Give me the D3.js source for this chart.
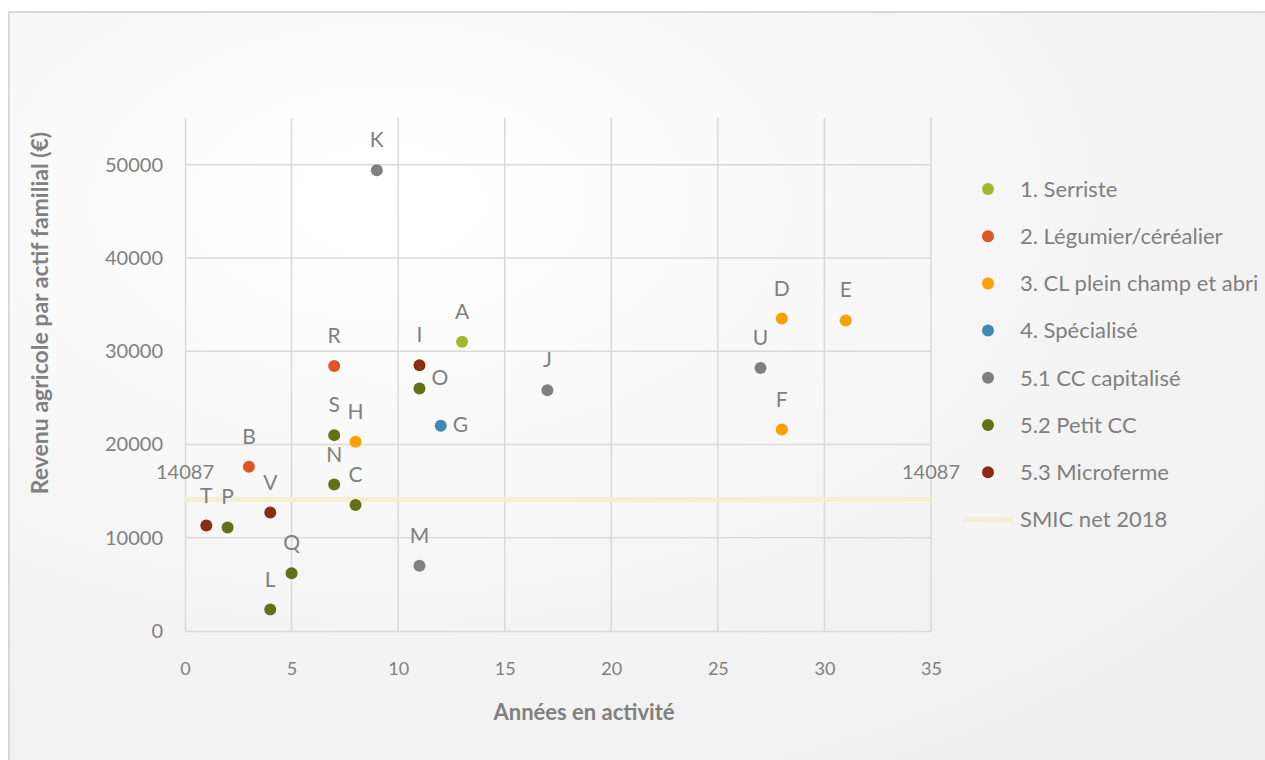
<!DOCTYPE html>
<html>
<head>
<meta charset="utf-8">
<script src="https://cdn.jsdelivr.net/npm/d3@7"></script>
<style>
  html, body { margin: 0; padding: 0; background: #ffffff; overflow: hidden; }
  svg { display: block; }
  text { font-family: Lato, "Open Sans", sans-serif; }
</style>
</head>
<body>
<svg id="chart" width="1265" height="760"></svg>
<script>
// Farm identifiers, years of activity and farm income per family worker (€)
const farmIds   = ["A", "B", "C", "D", "E", "F", "G", "H", "I", "J", "K",
                   "L", "M", "N", "O", "P", "Q", "R", "S", "T", "U", "V"];
const farmYears = [13, 3, 8, 28, 31, 28, 12, 8, 11, 17, 9,
                   4, 11, 7, 11, 2, 5, 7, 7, 1, 27, 4];
const farmIncome = [31000, 17600, 13500, 33500, 33300, 21600, 22000, 20300, 28500, 25800, 49400,
                    2300, 7000, 15700, 26000, 11100, 6200, 28400, 21000, 11300, 28200, 12700];
const farmGroup = ["1. Serriste", "2. Légumier/céréalier", "5.2 Petit CC",
                   "3. CL plein champ et abri", "3. CL plein champ et abri", "3. CL plein champ et abri",
                   "4. Spécialisé", "3. CL plein champ et abri", "5.3 Microferme",
                   "5.1 CC capitalisé", "5.1 CC capitalisé", "5.2 Petit CC", "5.1 CC capitalisé",
                   "5.2 Petit CC", "5.2 Petit CC", "5.2 Petit CC", "5.2 Petit CC",
                   "2. Légumier/céréalier", "5.2 Petit CC", "5.3 Microferme",
                   "5.1 CC capitalisé", "5.3 Microferme"];
// Farms whose label sits to the right of the marker instead of above
const labelRight = ["G", "O"];

const groupNames  = ["1. Serriste", "2. Légumier/céréalier", "3. CL plein champ et abri",
                     "4. Spécialisé", "5.1 CC capitalisé", "5.2 Petit CC", "5.3 Microferme"];
const groupColors = ["#a5b82a", "#e05527", "#ffa000", "#3f8ab5", "#808080", "#627016", "#8a2d12"];

const smicValue = 14087;
const smicLabel = "SMIC net 2018";

const xTicks = [0, 5, 10, 15, 20, 25, 30, 35];
const yTicks = [0, 10000, 20000, 30000, 40000, 50000];

const xTitle = "Années en activité";
const yTitle = "Revenu agricole par actif familial (€)";

const svg = d3.select("#chart");

// Background panel with soft radial shading
const defs = svg.append("defs");
const grad = defs.append("radialGradient").attr("id", "bg")
  .attr("cx", "30%").attr("cy", "25%").attr("r", "85%");
grad.append("stop").attr("offset", "0%").attr("stop-color", "#ffffff");
grad.append("stop").attr("offset", "100%").attr("stop-color", "#efefef");
svg.append("rect").attr("x", 9).attr("y", 12).attr("width", 1270).attr("height", 760)
  .attr("fill", "url(#bg)").attr("stroke", "#d9d9d9").attr("stroke-width", 2);

const plot = { left: 185, right: 931, top: 118, bottom: 631 };
const x = d3.scaleLinear().domain([0, 35]).range([plot.left, plot.right]);
const y = d3.scaleLinear().domain([0, 55000]).range([plot.bottom, plot.top]);

const gridColor = "#d9d9d9";
const textColor = "#808080";

// Vertical gridlines
svg.append("g").selectAll("line").data(xTicks.slice(1)).join("line")
  .attr("x1", d => x(d)).attr("x2", d => x(d))
  .attr("y1", plot.top).attr("y2", plot.bottom)
  .attr("stroke", gridColor).attr("stroke-width", 1.5);
// Horizontal gridlines
svg.append("g").selectAll("line").data(yTicks.slice(1)).join("line")
  .attr("x1", plot.left).attr("x2", plot.right)
  .attr("y1", d => y(d)).attr("y2", d => y(d))
  .attr("stroke", gridColor).attr("stroke-width", 1.5);

// Axes
const xAxis = svg.append("g").attr("transform", `translate(0,${plot.bottom})`)
  .call(d3.axisBottom(x).tickValues(xTicks).tickSize(0).tickPadding(38));
const yAxis = svg.append("g").attr("transform", `translate(${plot.left},0)`)
  .call(d3.axisLeft(y).tickValues(yTicks).tickSize(0).tickPadding(22).tickFormat(d3.format("d")));
[xAxis, yAxis].forEach(g => {
  g.select(".domain").attr("stroke", gridColor).attr("stroke-width", 1.5);
  g.selectAll("text").attr("fill", textColor)
    .style("font-family", "Lato, 'Open Sans', sans-serif");
});
xAxis.selectAll("text").attr("dy", "0.35em").style("font-size", "18px");
yAxis.selectAll("text").style("font-size", "20px");

// SMIC reference line
svg.append("line")
  .attr("x1", x(0)).attr("x2", x(35))
  .attr("y1", y(smicValue)).attr("y2", y(smicValue))
  .attr("stroke", "#f3f0d2").attr("stroke-width", 5);
svg.append("g").selectAll("text").data([0, 35]).join("text")
  .attr("x", d => x(d)).attr("y", y(smicValue) - 21)
  .attr("text-anchor", "middle").attr("fill", textColor)
  .style("font-size", "20px").text(d3.format("d")(smicValue));

// Scatter points
const farms = farmIds.map((id, i) => ({
  id, years: farmYears[i], income: farmIncome[i],
  color: groupColors[groupNames.indexOf(farmGroup[i])]
}));
svg.append("g").selectAll("circle").data(farms).join("circle")
  .attr("cx", d => x(d.years)).attr("cy", d => y(d.income))
  .attr("r", 6).attr("fill", d => d.color);

svg.append("g").selectAll("text").data(farms).join("text")
  .attr("x", d => labelRight.includes(d.id) ? x(d.years) + 12 : x(d.years))
  .attr("y", d => labelRight.includes(d.id)
    ? (d.id === "O" ? y(d.income) - 3 : y(d.income) + 6)
    : y(d.income) - 23)
  .attr("text-anchor", d => labelRight.includes(d.id) ? "start" : "middle")
  .attr("fill", textColor).style("font-size", "21px")
  .text(d => d.id);

// Legend
const legend = svg.append("g");
const legY0 = 189, legStep = 47.2;
groupNames.forEach((name, i) => {
  legend.append("circle").attr("cx", 988).attr("cy", legY0 + i * legStep)
    .attr("r", 6).attr("fill", groupColors[i]);
  legend.append("text").attr("x", 1020).attr("y", legY0 + i * legStep)
    .attr("dy", "0.35em").attr("fill", textColor).style("font-size", "22px").text(name);
});
legend.append("line").attr("x1", 963).attr("x2", 1013)
  .attr("y1", legY0 + 7 * legStep).attr("y2", legY0 + 7 * legStep)
  .attr("stroke", "#f3f0d2").attr("stroke-width", 5);
legend.append("text").attr("x", 1020).attr("y", legY0 + 7 * legStep)
  .attr("dy", "0.35em").attr("fill", textColor).style("font-size", "22px").text(smicLabel);

// Axis titles
svg.append("text").attr("x", 584).attr("y", 720)
  .attr("text-anchor", "middle").attr("fill", textColor)
  .style("font-size", "22px").style("font-weight", "bold").text(xTitle);
svg.append("text")
  .attr("transform", "translate(48,313) rotate(-90)")
  .attr("text-anchor", "middle").attr("fill", textColor)
  .style("font-size", "23px").style("font-weight", "bold").text(yTitle);
</script>
</body>
</html>
